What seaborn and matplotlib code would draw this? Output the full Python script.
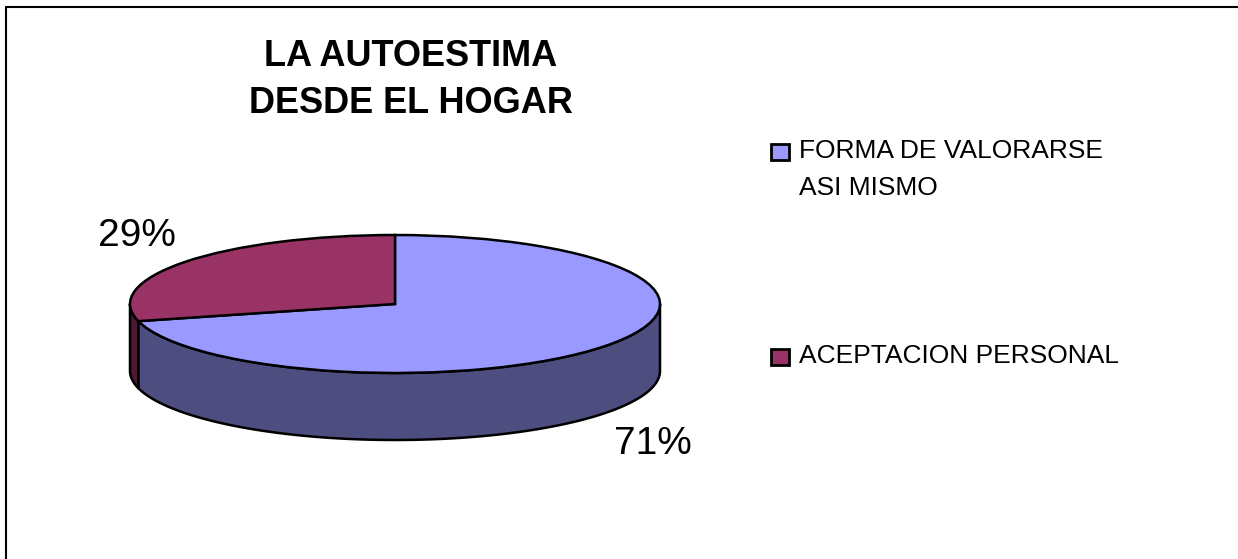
import numpy as np
import matplotlib
matplotlib.use("Agg")
import matplotlib.pyplot as plt
import seaborn as sns
from matplotlib.patches import Polygon, Rectangle
from matplotlib.lines import Line2D

# ---- data ----
categories = ["FORMA DE VALORARSE\nASI MISMO", "ACEPTACION PERSONAL"]
values = [71, 29]
pct_labels = ["71%", "29%"]
title = "LA AUTOESTIMA\nDESDE EL HOGAR"

top_colors = ["#9999FF", "#993366"]
side_colors = ["#4D4D80", "#4D1A33"]

sns.set_theme(style="white")
plt.rcParams["font.family"] = ["Liberation Sans", "DejaVu Sans"]
plt.rcParams["text.color"] = "black"

W, H = 1238, 559
fig = plt.figure(figsize=(W / 100, H / 100), dpi=100)
fig.patch.set_facecolor("white")

# axes geometry (pixels): centre (395,304), rx=265, ry=69
cx, cy, rx, ry = 395, 304, 265, 69
xl = (-1.2, 1.2)
yl = (-2.2, 1.3)
left = cx + xl[0] * rx
width = (xl[1] - xl[0]) * rx
top = cy - yl[1] * ry
height = (yl[1] - yl[0]) * ry
ax = fig.add_axes([left / W, 1 - (top + height) / H, width / W, height / H])

depth = 67 / ry
lw = 1.8

# wedge angles (start at 12 o'clock, clockwise)
fracs = np.array(values, dtype=float) / sum(values)
bounds = 90 - 360 * np.concatenate([[0], np.cumsum(fracs)])

# side walls (front half only: 180..360 deg)
for i in range(len(values)):
    a_start, a_end = bounds[i + 1], bounds[i]  # ccw range
    lo, hi = a_start % 360, a_end % 360
    if hi <= lo:
        hi += 360
    seg_lo = max(lo, 180)
    seg_hi = min(hi, 360)
    if seg_hi <= seg_lo:
        seg_lo = max(lo - 360, 180)
        seg_hi = min(hi - 360, 360)
    if seg_hi > seg_lo:
        t = np.radians(np.linspace(seg_lo, seg_hi, 200))
        xs = np.cos(t)
        ys = np.sin(t)
        pts = np.concatenate([np.column_stack([xs, ys]),
                              np.column_stack([xs[::-1], ys[::-1] - depth])])
        ax.add_patch(Polygon(pts, closed=True, facecolor=side_colors[i],
                             edgecolor="black", linewidth=lw, zorder=1,
                             joinstyle="round"))

# top face
ax.pie(values, colors=top_colors, startangle=90, counterclock=False,
       radius=1, center=(0, 0),
       wedgeprops=dict(edgecolor="black", linewidth=lw, zorder=2))

ax.set_aspect("auto")
ax.set_xlim(*xl)
ax.set_ylim(*yl)
ax.axis("off")

# percentage labels
ax.text((653 - cx) / rx, (cy - 444) / ry, pct_labels[0], fontsize=28,
        ha="center", va="center", color="black")
ax.text((137 - cx) / rx, (cy - 236) / ry, pct_labels[1], fontsize=28,
        ha="center", va="center", color="black")

# title
fig.text(411 / W, 1 - 80 / H, title, ha="center", va="center",
         fontsize=26, fontweight="bold", linespacing=1.45, color="black")

# legend
leg_y = [152, 357]
for i, lab in enumerate(categories):
    y = leg_y[i]
    fig.patches.append(Rectangle((771 / W, 1 - (y + 8) / H), 18 / W, 16 / H,
                                 transform=fig.transFigure,
                                 facecolor=top_colors[i], edgecolor="black",
                                 linewidth=2.0))
    fig.text(799 / W, 1 - (y - 13) / H, lab, ha="left", va="top",
             fontsize=19, linespacing=1.7, color="black")

# frame (left and top edges)
fig.add_artist(Line2D([6 / W, 6 / W], [0, 1 - 7 / H], color="black",
                      linewidth=1.5, transform=fig.transFigure))
fig.add_artist(Line2D([6 / W, 1], [1 - 7 / H, 1 - 7 / H], color="black",
                      linewidth=1.5, transform=fig.transFigure))

fig.savefig("out.png", dpi=100, facecolor="white")
